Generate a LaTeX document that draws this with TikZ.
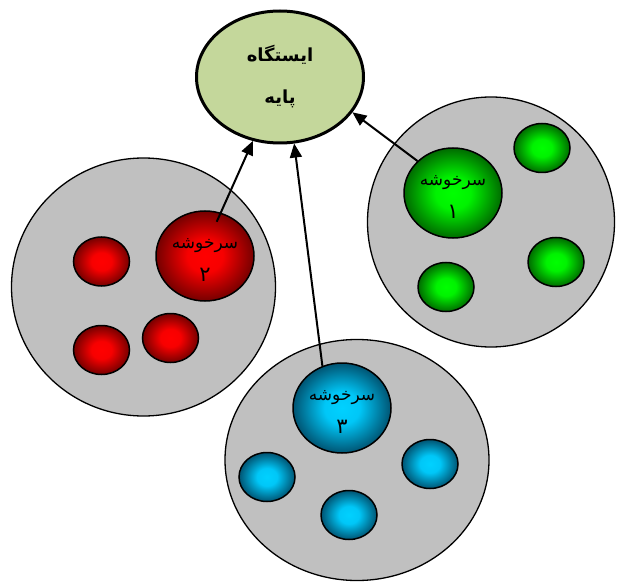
\documentclass[tikz,border=0pt]{standalone}
\usepackage{fontspec}
\usetikzlibrary{shapes.geometric,arrows.meta,calc}
\TeXXeTstate=1
\newfontfamily\arabicfont[Script=Arabic]{DejaVu Sans}
\newcommand{\headdigit}[1]{{\fontsize{21}{33}\selectfont #1}}
\definecolor{basefill}{RGB}{196,215,155}
\definecolor{cellgray}{RGB}{192,192,192}
% sensor-node spheres: bright core, dark rim
\pgfdeclareradialshading{redsphere}{\pgfpoint{0bp}{0bp}}{rgb(0bp)=(1,0,0);rgb(9bp)=(0.97,0,0);rgb(25bp)=(0.46,0,0);rgb(50bp)=(0.46,0,0)}
\pgfdeclareradialshading{greensphere}{\pgfpoint{0bp}{0bp}}{rgb(0bp)=(0,1,0);rgb(9bp)=(0,0.95,0);rgb(25bp)=(0,0.42,0);rgb(50bp)=(0,0.42,0)}
\pgfdeclareradialshading{bluesphere}{\pgfpoint{0bp}{0bp}}{rgb(0bp)=(0,0.82,1);rgb(9bp)=(0,0.78,0.97);rgb(25bp)=(0,0.33,0.45);rgb(50bp)=(0,0.33,0.45)}
\begin{document}
\begin{tikzpicture}[x=1pt,y=-1pt,
  cell/.style={ellipse, draw, line width=1.3pt, fill=cellgray, inner sep=0pt},
  sensor/.style={ellipse, draw, line width=1.5pt, inner sep=0pt,
    minimum width=56pt, minimum height=49pt},
  head/.style={sensor, minimum width=98pt, minimum height=90pt},
  headtext/.style={align=center, inner sep=0pt,
    font={\arabicfont\fontsize{17}{33}\selectfont}},
  redfill/.style={shading=redsphere},
  greenfill/.style={shading=greensphere},
  bluefill/.style={shading=bluesphere},
  link/.style={line width=2pt, -{Triangle[length=14pt,width=12pt]}},
]
\useasboundingbox (0,0) rectangle (623,585);

% cluster regions
\node[cell, minimum width=264pt, minimum height=258pt] (c2) at (143.5,287) {};
\node[cell, minimum width=247pt, minimum height=250pt] (c1) at (491,222) {};
\node[cell, minimum width=264pt, minimum height=241pt] (c3) at (357,460) {};

% base station
\node[ellipse, draw, line width=3pt, fill=basefill, inner sep=0pt,
  minimum width=167pt, minimum height=132pt, align=center,
  font={\arabicfont\bfseries\fontsize{18}{42}\selectfont}] (bs) at (280,77)
  {\beginR ایستگاه\endR\\\beginR پایه\endR};

% cluster 1
\node[head, greenfill] (h1) at (453,193) {};
\node[headtext] (t1) at ($(h1.center)+(0,4)$) {\beginR سرخوشه\endR\\\headdigit{۱}};
\node[sensor, greenfill] (g1) at (542,148) {};
\node[sensor, greenfill] (g2) at (556,262) {};
\node[sensor, greenfill] (g3) at (446,287) {};

% cluster 2
\node[head, redfill] (h2) at (205,256) {};
\node[headtext] (t2) at ($(h2.center)+(0,4)$) {\beginR سرخوشه\endR\\\headdigit{۲}};
\node[sensor, redfill] (r1) at (101.5,261.5) {};
\node[sensor, redfill] (r2) at (101.5,350) {};
\node[sensor, redfill] (r3) at (170.5,338) {};

% cluster 3
\node[head, bluefill] (h3) at (342,408) {};
\node[headtext] (t3) at ($(h3.center)+(0,4)$) {\beginR سرخوشه\endR\\\headdigit{۳}};
\node[sensor, bluefill] (b1) at (267,477) {};
\node[sensor, bluefill] (b2) at (430,464) {};
\node[sensor, bluefill] (b3) at (349,515) {};

% links from cluster heads to the base station
\draw[link] (h1.138) -- (bs.334);
\draw[link, shorten <=-10pt] (h2.70) -- (bs.247);
\draw[link] (h3.115) -- (bs.282);
\end{tikzpicture}
\end{document}
